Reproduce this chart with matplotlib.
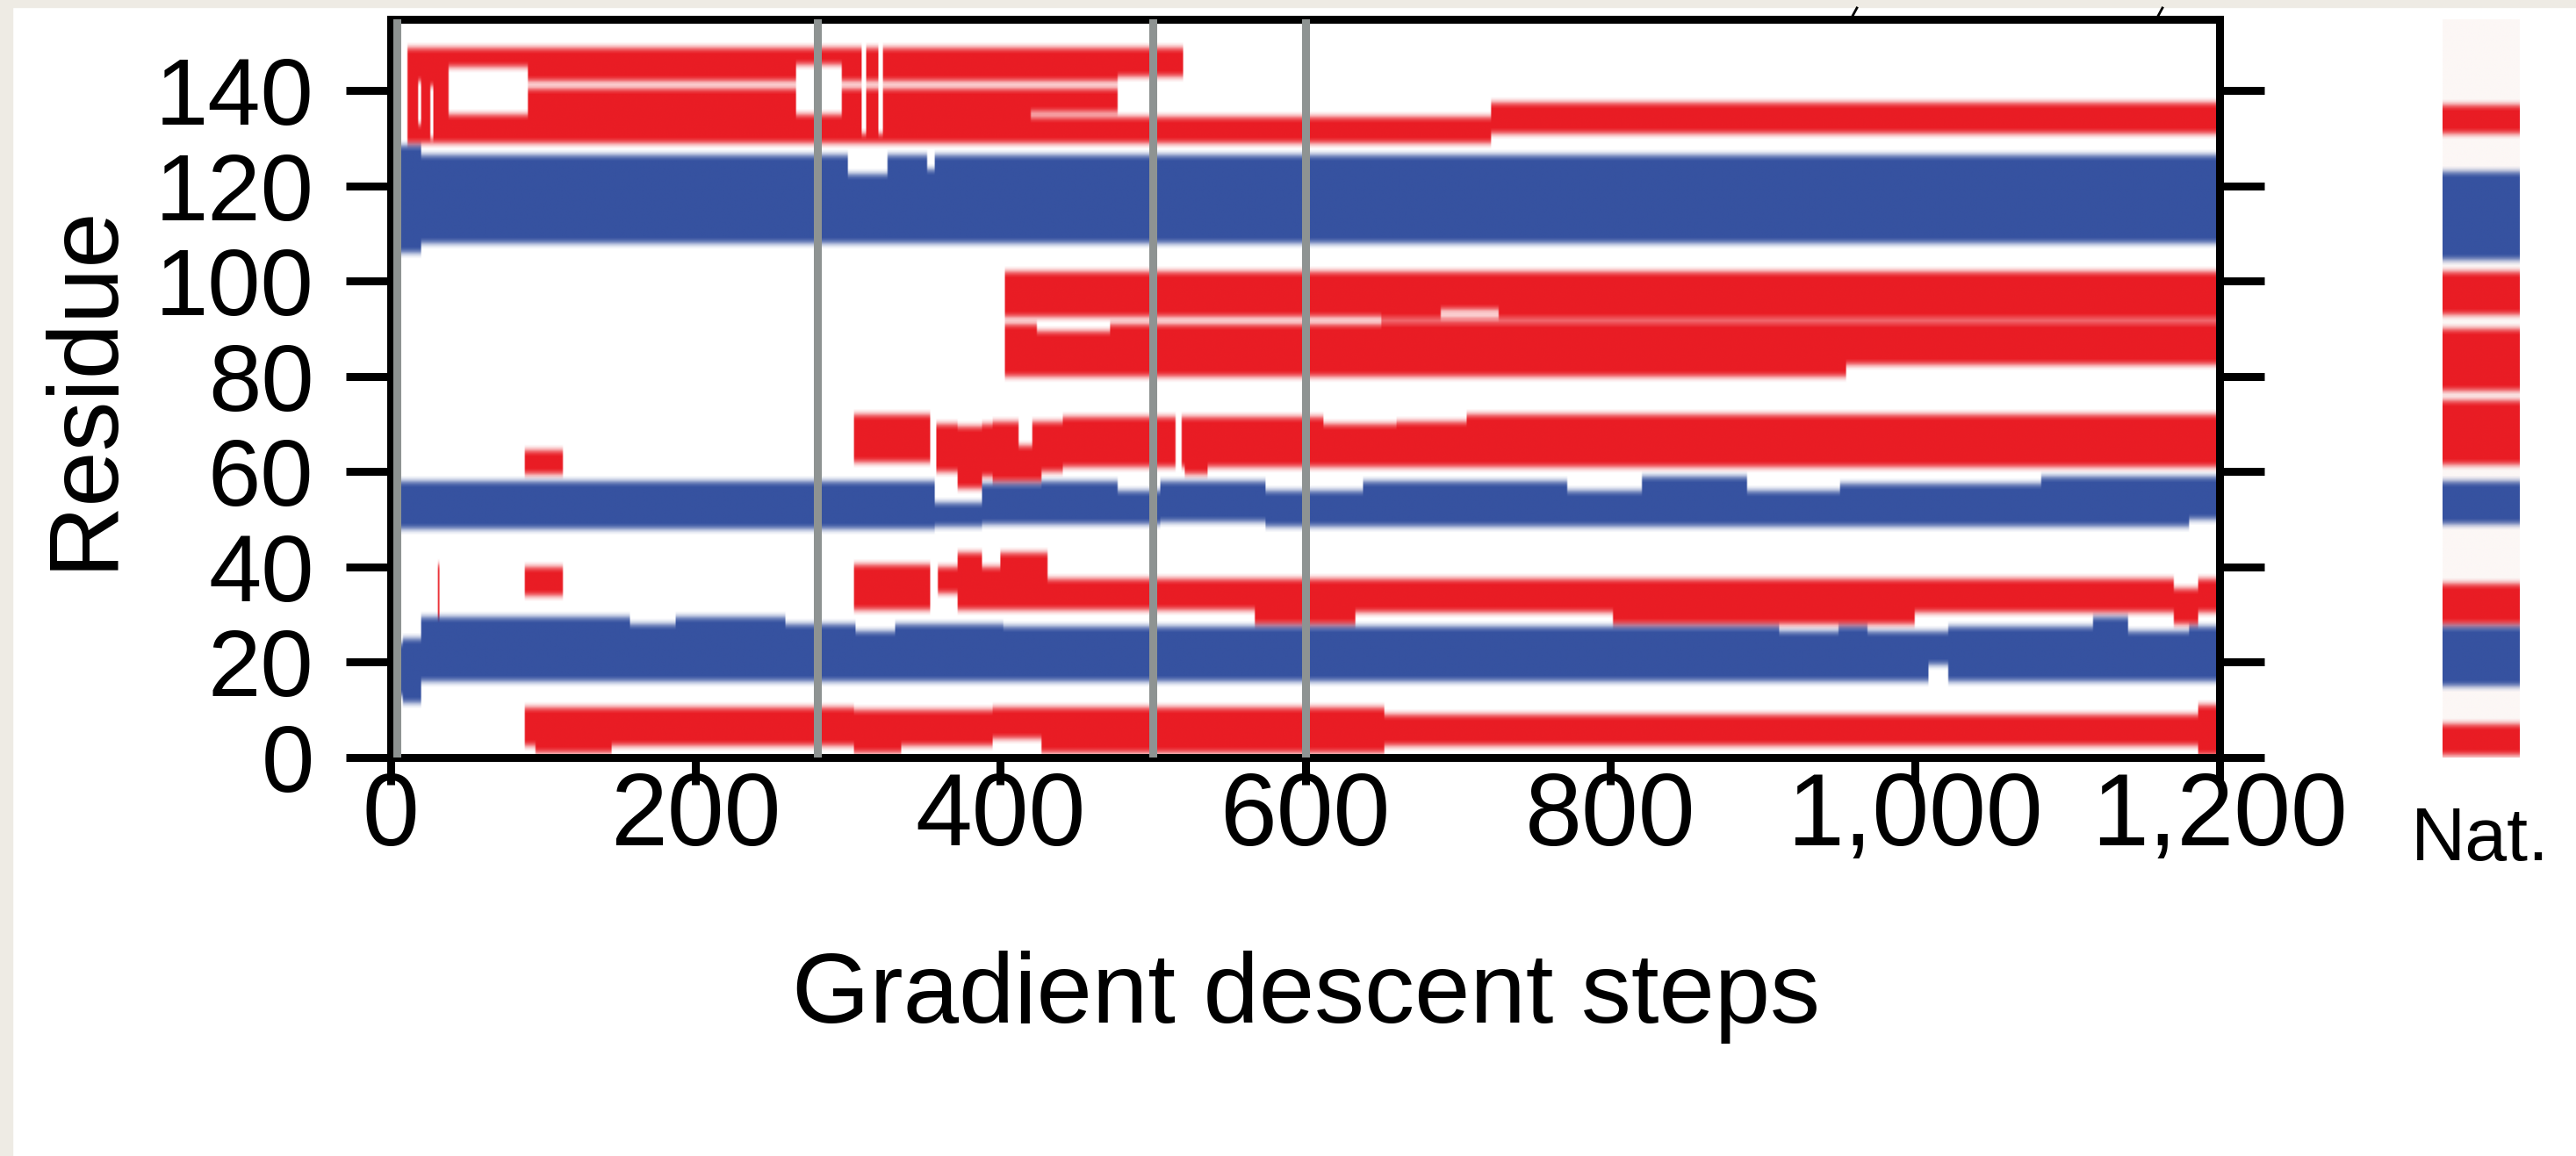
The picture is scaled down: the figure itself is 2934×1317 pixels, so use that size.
import numpy as np
import matplotlib
matplotlib.use('Agg')
import matplotlib.pyplot as plt
from matplotlib.lines import Line2D
from matplotlib.patches import Rectangle
from matplotlib.ticker import FuncFormatter

plt.rcParams['font.family'] = ['Liberation Sans', 'DejaVu Sans']

# secondary structure along the descent, (step_from, step_to, residue_from, residue_to)
helix = [
    # C-terminal helix region
    (11, 520, 143, 149), (11, 477, 129, 143), (477, 722, 129, 134.5), (722, 1200, 131, 137.3),
    # helices 80-102
    (403, 955, 80, 102), (955, 1200, 82.5, 102),
    # helix 60-72
    (88, 113, 59.5, 64.4), (304, 354, 62.2, 72), (358, 372, 60, 70), (372, 388, 56.5, 69.5),
    (388, 395, 59, 70), (395, 412, 58.2, 70.5), (412, 421, 58.2, 65.6), (421, 427, 58.2, 70.5),
    (427, 441, 60, 70.5), (441, 612, 61.2, 71.7), (612, 660, 61.2, 69.9), (660, 706, 61.2, 70.5),
    (706, 1200, 61.2, 71.8), (521, 536, 59.5, 62),
    # helix 28-43
    (31, 32, 28, 40.4), (88, 113, 34, 40.1), (304, 354, 31.2, 40.4), (359, 372, 34.3, 39.8),
    (372, 388, 31.2, 42.9), (388, 400, 31.2, 39.8), (400, 431, 31.2, 43), (431, 567, 31.2, 37.3),
    (567, 633, 28, 37.3), (633, 802, 30.6, 37.3), (802, 1000, 27.8, 37.3), (1000, 1170, 30.6, 37.3),
    (1170, 1186, 28, 35.5), (1186, 1200, 30.6, 37.3),
    # N-terminal helix
    (88, 95, 2.3, 10.6), (95, 145, 1.1, 10.6), (145, 304, 2.3, 10.6), (304, 335, 1, 10),
    (335, 395, 2.3, 10), (395, 427, 4.2, 10.6), (427, 652, 0.9, 10.6), (652, 1186, 2.7, 9),
    (1186, 1200, 0.6, 11.2),
]

strand = [
    # strand 108-127
    (2, 1200, 108, 126.5), (2, 20, 106, 128.5),
    # strand 48-58
    (6, 357, 48, 58), (357, 388, 48.4, 53.3), (388, 427, 48.8, 57.6), (427, 477, 49, 58.2),
    (477, 505, 49, 56), (505, 574, 49.6, 57.9), (574, 638, 48.4, 55.8), (638, 772, 48.5, 58.2),
    (772, 821, 48.5, 55.9), (821, 890, 48.5, 58.8), (890, 951, 48.5, 55.9), (951, 1083, 48.5, 57.6),
    (1083, 1180, 48.5, 58.8), (1180, 1200, 49.8, 58.8),
    # strand 15-29
    (4, 8, 13, 24), (8, 20, 11.5, 25), (20, 157, 16, 29.3), (157, 187, 16, 27.9),
    (187, 259, 16, 29.3), (259, 305, 16, 27.9), (305, 331, 16, 26.4), (331, 402, 16, 27.9),
    (402, 911, 16, 27.5), (911, 950, 16, 26.4), (950, 969, 16, 27.5), (969, 1022, 16, 26.4),
    (1022, 1117, 16, 27.5), (1117, 1140, 16, 29.3), (1140, 1180, 16, 26.4), (1180, 1200, 16, 27.5),
]

# coil gaps cut out of the above
coil = [
    (38, 90, 135, 145), (90, 478, 140.5, 142), (266, 296, 135, 145.6), (309, 312, 131, 149),
    (320, 323, 131, 149), (18, 20, 133, 142), (26, 28, 130, 141), (420, 477, 134.5, 135.5),
    (300, 326, 122.5, 127), (352, 357, 123.5, 127),
    (403, 650, 91, 92.5), (650, 1200, 91.5, 92), (424, 472, 89.5, 91), (689, 727, 92.5, 94),
    (515, 519, 61, 72), (1009, 1022, 14, 19.5),
]

# native structure, (residue_from, residue_to)
native_helix = [(0.6, 6.9), (27.8, 36.7), (61.4, 75.2), (77.0, 90.1), (93.0, 102.1), (131, 137.2)]
native_strand = [(15.2, 27.5), (49.2, 58.1), (104.3, 123)]

n_steps = 1200
res_max = 155
x_ticks = [0, 200, 400, 600, 800, 1000, 1200]
y_ticks = [0, 20, 40, 60, 80, 100, 120, 140]
marks = [280, 500, 600]

RED = (233, 29, 37)
BLUE = (54, 82, 160)
dres = 0.5


def paint(layers, ncols, coil_rgb=(255, 255, 255)):
    grid = np.zeros((int(res_max / dres), ncols), dtype=int)
    for code, rects in layers:
        for s0, s1, r0, r1 in rects:
            grid[int(round(r0 / dres)):int(round(r1 / dres)), int(s0):int(s1)] = code
    pal = np.array([coil_rgb, RED, BLUE], dtype=float) / 255
    rgb = pal[grid]
    # soft edges along the residue axis only
    k = np.array([1, 2, 3, 2, 1], dtype=float)
    k /= k.sum()
    pad = np.pad(rgb, ((2, 2), (0, 0), (0, 0)), mode='edge')
    out = sum(k[i] * pad[i:i + rgb.shape[0]] for i in range(5))
    return out


fig = plt.figure(figsize=(29.34, 13.17), dpi=100)
fig.patches.append(Rectangle((0, 0), 14 / 2934, 1, transform=fig.transFigure,
                             color='#EEEBE4', zorder=-1))
fig.patches.append(Rectangle((0, 1 - 8 / 1317), 1, 8 / 1317, transform=fig.transFigure,
                             color='#EEEBE4', zorder=-1))
for x in (2112, 2460):
    fig.lines.append(Line2D([(x - 3) / 2934, (x + 3) / 2934], [1 - 20 / 1317, 1 - 9 / 1317],
                            transform=fig.transFigure, color='black', lw=2))

ax = fig.add_axes([445 / 2934, 1 - 862.6 / 1317, 2083 / 2934, 840.6 / 1317])
img = paint([(1, helix), (2, strand), (0, coil)], n_steps)
ax.imshow(img, origin='lower', extent=[0, n_steps, 0, res_max], aspect='auto',
          interpolation='bilinear')
ax.axvline(4, color='#8E9392', lw=6.5, zorder=3)
for m in marks:
    ax.axvline(m, color='#8E9392', lw=6.5, zorder=3)
ax.set_xlim(0, n_steps)
ax.set_ylim(0, res_max)
ax.set_xticks(x_ticks)
ax.set_yticks(y_ticks)
ax.xaxis.set_major_formatter(FuncFormatter(lambda v, p: '{:,}'.format(int(v))))
for s in ax.spines.values():
    s.set_linewidth(6.5)
ax.tick_params(axis='y', left=True, right=True, labelleft=True, labelright=False,
               direction='out', length=37, width=6.5, pad=26, labelsize=78)
ax.tick_params(axis='x', bottom=True, top=False, direction='out', length=22,
               width=6.5, pad=-11, labelsize=84)
fig.text(97 / 2934, 1 - 440 / 1317, 'Residue', rotation=90, ha='center', va='center',
         fontsize=82)
fig.text(1487 / 2934, 1 - 1136 / 1317, 'Gradient descent steps', ha='center',
         va='center', fontsize=82)

# native strip
ax2 = fig.add_axes([2782 / 2934, 1 - 862.6 / 1317, 88 / 2934, 840.6 / 1317])
nat = paint([(1, [(0, 1, a, b) for a, b in native_helix]),
             (2, [(0, 1, a, b) for a, b in native_strand])], 1, coil_rgb=(252, 247, 246))
ax2.imshow(nat, origin='lower', extent=[0, 1, 0, res_max], aspect='auto',
           interpolation='bilinear')
ax2.set_xlim(0, 1)
ax2.set_ylim(0, res_max)
ax2.axis('off')
fig.text(2825 / 2934, 1 - 958 / 1317, 'Nat.', ha='center', va='center', fontsize=62)

fig.savefig('out.png', dpi=100)
